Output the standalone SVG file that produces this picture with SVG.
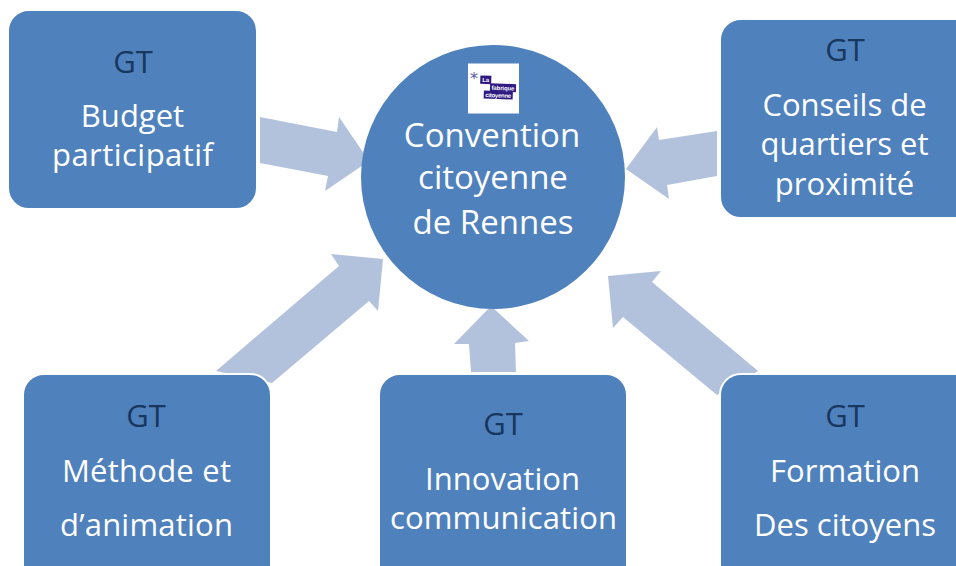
<svg xmlns="http://www.w3.org/2000/svg" width="956" height="566" viewBox="0 0 956 566">
<style>
.b{fill:#4f81bd}
.n{fill:#4f81bd;stroke:#fff;stroke-width:2}
.a{fill:#b2c2dd}
text{font-family:"Open Sans","Liberation Sans",sans-serif;text-anchor:middle}
.w{fill:#fff;font-size:31px}
.g{fill:#17375e;font-size:31px}
.c{fill:#fff;font-size:33px}
.p{fill:#2e1a80}
.l{font-family:"Liberation Sans",sans-serif;font-weight:bold;font-size:6px;fill:#fff}
</style>
<rect width="956" height="566" fill="#fff"/>
<g id="connectors">
<path class="a" d="M260 117L337 132L339 117L369 161L325 191L328 176L260 163Z"/>
<path class="a" d="M717 131L659 140L657 127L626 169L669 199L667 185L717 176Z"/>
<path class="a" d="M216 371L339 266L331 254L383 259L378 311L369 301L272 383Z"/>
<path class="a" d="M471 372L469 344L454 344L491 306L529 341L515 343L516 372Z"/>
<path class="a" d="M758 371L652 282L661 271L608 276L613 328L623 317L717 395Z"/>
</g>
<g id="node-budget"><rect class="n" x="8" y="10" width="249" height="199" rx="21"/>
<text class="g" x="133" y="73">GT</text><text class="w" x="132.500" y="126.500">Budget</text><text class="w" x="132.500" y="166" textLength="161">participatif</text></g>
<g id="node-conseils"><rect class="n" x="720" y="19" width="257" height="199" rx="21"/>
<text class="g" x="845" y="61">GT</text><text class="w" x="844.500" y="116">Conseils de</text><text class="w" x="844.500" y="155" textLength="168">quartiers et</text><text class="w" x="844.500" y="195">proximité</text></g>
<g id="node-methode"><rect class="n" x="23" y="374" width="248" height="222" rx="21"/>
<text class="g" x="146" y="427">GT</text><text class="w" x="146.500" y="482" textLength="169">Méthode et</text><text class="w" x="146.500" y="536" textLength="173">d’animation</text></g>
<g id="node-innovation"><rect class="n" x="379" y="374" width="248" height="222" rx="21"/>
<text class="g" x="503" y="435">GT</text><text class="w" x="502.500" y="490" textLength="155">Innovation</text><text class="w" x="503.500" y="528.500" textLength="227">communication</text></g>
<g id="node-formation"><rect class="n" x="720" y="374" width="257" height="222" rx="21"/>
<text class="g" x="845" y="427">GT</text><text class="w" x="845" y="482">Formation</text><text class="w" x="845" y="536" textLength="182">Des citoyens</text></g>
<g id="node-convention"><circle class="b" cx="493" cy="177" r="132"/>
<text class="c" x="492" y="147">Convention</text><text class="c" x="493" y="189">citoyenne</text><text class="c" x="493" y="234">de Rennes</text>
<g id="logo"><rect x="468" y="63.500" width="51" height="50" fill="#fff"/>
<text x="474" y="84" style="font-size:16px;fill:#5a5aa8;font-family:'DejaVu Sans',sans-serif">*</text>
<g transform="rotate(2 498 88)">
<rect class="p" x="480" y="76" width="11" height="8.500"/><rect class="p" x="490" y="83.500" width="26" height="8"/><rect class="p" x="484" y="91" width="29" height="8"/>
<text class="l" x="485.500" y="82.500">La</text><text class="l" x="503" y="90" textLength="23">fabrique</text><text class="l" x="498.500" y="97.500" textLength="26">citoyenne</text></g></g></g>
</svg>
